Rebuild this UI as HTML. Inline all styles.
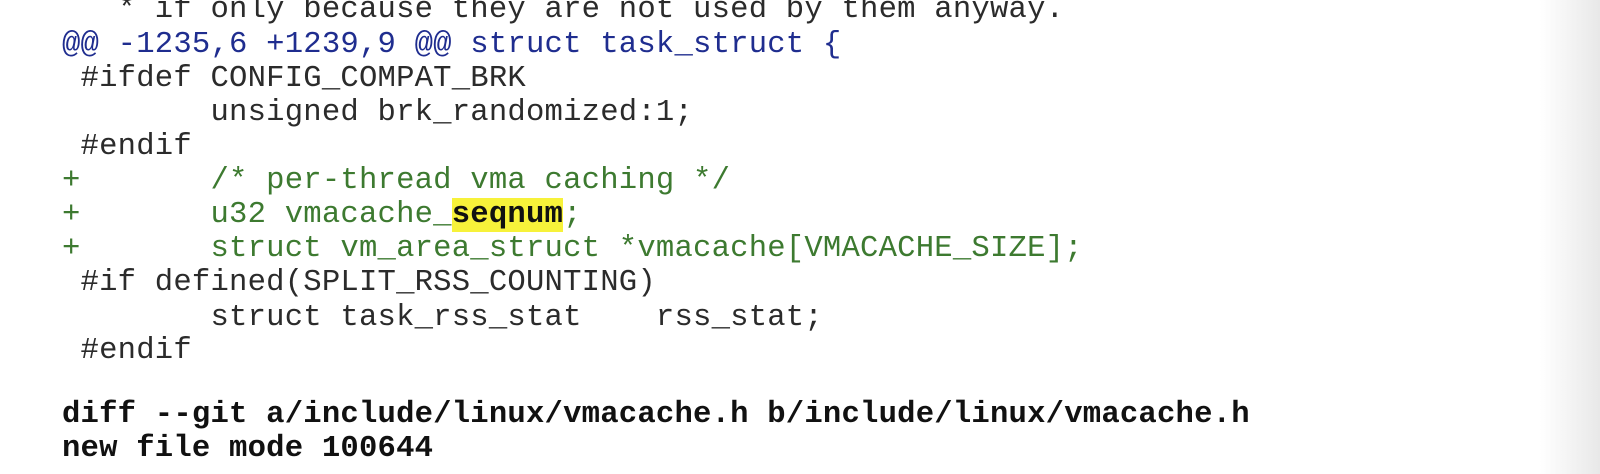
<!DOCTYPE html>
<html><head><meta charset="utf-8"><style>
html,body{margin:0;padding:0;}
body{width:1600px;height:474px;overflow:hidden;position:relative;background:#fff;}
.g{position:absolute;right:0;top:0;width:60px;height:474px;background:linear-gradient(to right,rgba(232,232,232,0),#e8e8e8);}
.l{position:absolute;left:62px;font-family:"Liberation Mono",monospace;font-size:30.6px;letter-spacing:0.2px;line-height:34px;height:34px;white-space:pre;color:#2b2b2b;}
.b{color:#1f2d8f;}
.n{color:#3d7a30;}
.h{background:#f7f23a;color:#111;font-weight:bold;}
.k{font-weight:bold;color:#111;}
</style></head><body>
<div class="g"></div>
<div class="l" style="top:-7px">   * if only because they are not used by them anyway.</div>
<div class="l b" style="top:28px">@@ -1235,6 +1239,9 @@ struct task_struct {</div>
<div class="l" style="top:62px"> #ifdef CONFIG_COMPAT_BRK</div>
<div class="l" style="top:96px">        unsigned brk_randomized:1;</div>
<div class="l" style="top:130px"> #endif</div>
<div class="l n" style="top:164px">+       /* per-thread vma caching */</div>
<div class="l n" style="top:198px">+       u32 vmacache_<span class="h">seqnum</span>;</div>
<div class="l n" style="top:232px">+       struct vm_area_struct *vmacache[VMACACHE_SIZE];</div>
<div class="l" style="top:266px"> #if defined(SPLIT_RSS_COUNTING)</div>
<div class="l" style="top:301px">        struct task_rss_stat    rss_stat;</div>
<div class="l" style="top:334px"> #endif</div>
<div class="l k" style="top:398px">diff --git a/include/linux/vmacache.h b/include/linux/vmacache.h</div>
<div class="l k" style="top:432px">new file mode 100644</div>
</body></html>
